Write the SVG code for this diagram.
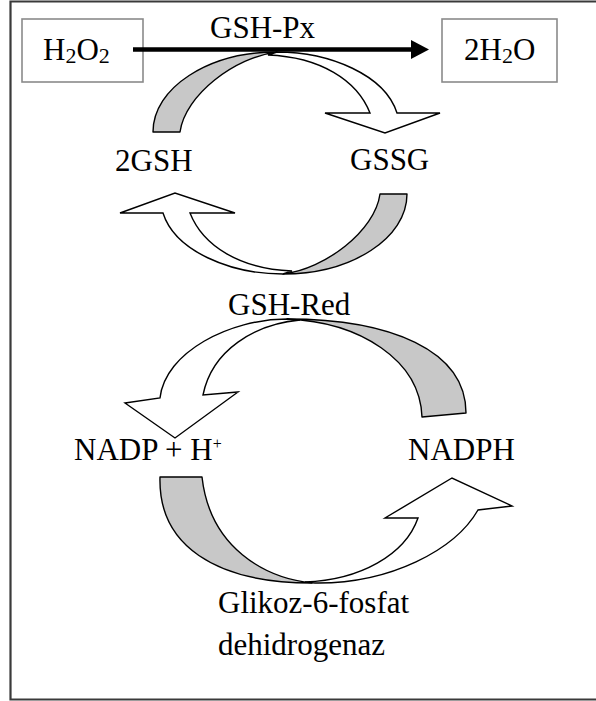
<svg xmlns="http://www.w3.org/2000/svg" width="596" height="701" viewBox="0 0 596 701">
  <style>
    .lbl { font-family: "Liberation Serif", "Times New Roman", serif; font-size: 31px; fill: #000; }
    .sub { font-size: 22px; }
    .box { fill: none; stroke: #8a8a8a; stroke-width: 1.6; }
    .back { fill: #c8c8c8; stroke: #000; stroke-width: 1.4; stroke-linejoin: round; }
    .front { fill: #fff; stroke: #000; stroke-width: 1.4; stroke-linejoin: miter; }
  </style>
  <defs>
    <marker id="head" markerUnits="userSpaceOnUse" markerWidth="20" markerHeight="20" refX="0" refY="9.5" orient="auto">
      <path d="M0,0 L18,9.5 L0,19 Z" fill="#000"/>
    </marker>
    <!-- ribbon-style curved arrow used for the glutathione cycle -->
    <g id="ribbonSmall">
      <path class="back" d="M153,132 C153,88 208,52 277,52 C235,57 185,95 180,132 Z"/>
      <path class="front" d="M277,52 C330,52 385,75 397,113 L440,113 L385,133 L325,113 L370,113 C357,80 320,57 268,55 Z"/>
    </g>
  </defs>

  <rect width="596" height="701" fill="#fff"/>
  <!-- frame (open on the right) -->
  <path d="M596,1.5 H10.5 V699.5 H596" fill="none" stroke="#3a3a3a" stroke-width="2.2"/>

  <g id="h2o2">
    <rect class="box" x="22" y="19" width="121" height="63"/>
    <text class="lbl" x="43" y="60">H<tspan class="sub" dy="3">2</tspan><tspan dy="-3">O</tspan><tspan class="sub" dy="3">2</tspan></text>
  </g>
  <g id="h2o">
    <rect class="box" x="442" y="19" width="115" height="63"/>
    <text class="lbl" x="464" y="60">2H<tspan class="sub" dy="3">2</tspan><tspan dy="-3">O</tspan></text>
  </g>

  <g id="connectors">
    <line id="px-arrow" x1="133" y1="49.5" x2="411" y2="49.5" stroke="#000" stroke-width="4.5" marker-end="url(#head)"/>
    <use id="arrow-2gsh-gssg" href="#ribbonSmall"/>
    <use id="arrow-gssg-2gsh" href="#ribbonSmall" transform="rotate(180 280 163)"/>
    <g id="arrow-nadph-nadp">
      <path class="back" d="M466,413 C466,350 390,319 287,319 C360,322 420,360 422,417 Z"/>
      <path class="front" d="M287,319 C230,319 165,352 160,398 L125,403 L175,438 L238,392 L203,395 C212,350 255,324 300,320 Z"/>
    </g>
    <g id="arrow-nadp-nadph">
      <path class="back" d="M160,477 C158,545 215,583 312,583 C265,578 210,548 202,477 Z"/>
      <path class="front" d="M315,583 C390,584 455,550 478,510 L512,506 L452,478 L385,518 L418,518 C405,555 360,580 305,582 Z"/>
    </g>
  </g>

  <g id="gsh-px"><text class="lbl" x="210" y="38">GSH-Px</text></g>
  <g id="gsh"><text class="lbl" x="115" y="171">2GSH</text></g>
  <g id="gssg"><text class="lbl" x="350" y="170">GSSG</text></g>
  <g id="gsh-red"><text class="lbl" x="228" y="315">GSH-Red</text></g>
  <g id="nadp"><text class="lbl" x="74" y="460">NADP + H<tspan font-size="16" dy="-11">+</tspan></text></g>
  <g id="nadph"><text class="lbl" x="408" y="460">NADPH</text></g>
  <g id="g6pd">
    <text class="lbl" x="218" y="613">Glikoz-6-fosfat</text>
    <text class="lbl" x="218" y="655">dehidrogenaz</text>
  </g>
</svg>
